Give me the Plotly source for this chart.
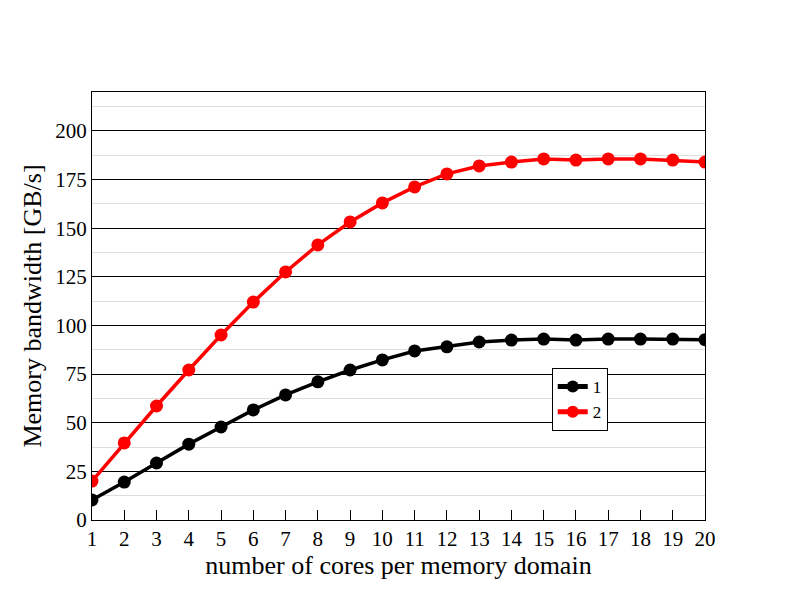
import plotly.graph_objects as go

cores = list(range(1, 21))
series1 = [10.3, 19.5, 29.3, 39.0, 47.8, 56.6, 64.3, 71.0, 77.1, 82.3,
           86.9, 89.0, 91.5, 92.5, 93.0, 92.5, 93.0, 93.0, 93.0, 92.7]
series2 = [20.0, 39.6, 58.6, 77.1, 95.1, 112.0, 127.5, 141.4, 153.2, 163.0,
           171.2, 177.9, 182.0, 184.0, 185.6, 185.0, 185.6, 185.6, 185.0, 184.0]
names = ["1", "2"]

fig = go.Figure()
for vals, name, col in [(series1, names[0], "black"), (series2, names[1], "red")]:
    fig.add_trace(go.Scatter(x=cores, y=vals, name=name, mode="lines+markers",
                             line=dict(color=col, width=3.5),
                             marker=dict(color=col, size=13)))

font = "Liberation Serif, Times New Roman, serif"
fig.update_layout(
    width=792, height=612,
    margin=dict(l=84, r=95, t=84, b=100),
    paper_bgcolor="white", plot_bgcolor="white",
    font=dict(family=font, color="black", size=21),
    showlegend=True,
    legend=dict(x=0.75, y=0.355, xanchor="left", yanchor="top",
                bordercolor="black", borderwidth=1, bgcolor="white",
                font=dict(size=17), tracegroupgap=0, itemwidth=30,
                itemsizing="constant"),
    xaxis=dict(range=[1, 20], dtick=1, tick0=1, ticks="inside", ticklen=10,
               tickcolor="black", showline=True, linecolor="black", linewidth=1,
               mirror=True, showgrid=False, zeroline=False,
               title=dict(text="number of cores per memory domain", font=dict(size=26), standoff=0)),
    yaxis=dict(range=[0, 220], tickvals=[0, 25, 50, 75, 100, 125, 150, 175, 200],
               showline=True, linecolor="black", linewidth=1, mirror=True,
               showgrid=True, gridcolor="black", gridwidth=1, zeroline=False,
               minor=dict(tickvals=[12.5, 37.5, 62.5, 87.5, 112.5, 137.5, 162.5, 187.5, 212.5],
                          showgrid=True, gridcolor="#dddddd", gridwidth=1),
               title=dict(text="Memory bandwidth [GB/s]", font=dict(size=26), standoff=6)),
)
fig.write_html("out.html")
